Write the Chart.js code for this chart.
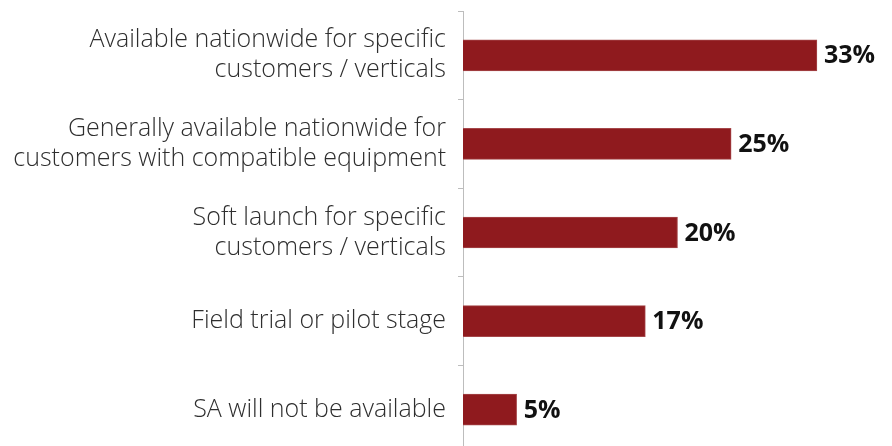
<!DOCTYPE html>
<html lang="en">
<head>
    <meta charset="UTF-8">
    <title>SA availability</title>
    <script src="https://cdn.jsdelivr.net/npm/chart.js"></script>
    <style>
        html, body { margin: 0; padding: 0; background: #fff; overflow: hidden; }
        .chart-box { position: relative; width: 892px; height: 454px; }
    </style>
</head>
<body>
    <div class="chart-box">
        <canvas id="availChart"></canvas>
    </div>

    <script>
        // Survey answers, top to bottom
        const categories = [
            ['Available nationwide for specific', 'customers / verticals'],
            ['Generally available nationwide for', 'customers with compatible equipment'],
            ['Soft launch for specific', 'customers / verticals'],
            'Field trial or pilot stage',
            'SA will not be available'
        ];
        const shares = [33, 25, 20, 17, 5];

        // Writes the percentage just past the end of each bar
        const valueLabels = {
            id: 'valueLabels',
            afterDatasetsDraw(chart) {
                const ctx = chart.ctx;
                const meta = chart.getDatasetMeta(0);
                ctx.save();
                ctx.font = 'bold 25px "Open Sans"';
                ctx.fillStyle = '#111';
                ctx.textAlign = 'left';
                ctx.textBaseline = 'middle';
                meta.data.forEach((bar, i) => {
                    ctx.fillText(shares[i] + '%', bar.x + 7, bar.y + 1);
                });
                ctx.restore();
            }
        };

        new Chart(document.getElementById('availChart'), {
            type: 'bar',
            data: {
                labels: categories,
                datasets: [{
                    data: shares,
                    backgroundColor: '#8f1a1e',
                    borderColor: '#a5474a',
                    borderWidth: 1,
                    barThickness: 31
                }]
            },
            options: {
                indexAxis: 'y',
                responsive: true,
                maintainAspectRatio: false,
                animation: false,
                layout: { padding: { top: 11, right: 0, bottom: 0, left: 0 } },
                plugins: {
                    legend: { display: false },
                    tooltip: { enabled: false }
                },
                scales: {
                    x: {
                        display: false,
                        min: 0,
                        max: 40
                    },
                    y: {
                        // fixed axis width, and no extra room reserved for the tall labels
                        afterFit(scale) {
                            scale.width = 463;
                            scale.paddingTop = 0;
                            scale.paddingBottom = 0;
                        },
                        border: { display: true, color: '#bdbdbd', width: 1 },
                        grid: {
                            offset: true,
                            drawOnChartArea: false,
                            tickLength: 5,
                            color: '#bdbdbd'
                        },
                        ticks: {
                            padding: 12,
                            color: '#2e2e2e',
                            font: { family: 'Open Sans', size: 25, weight: 300, lineHeight: 1.2 }
                        }
                    }
                }
            },
            plugins: [valueLabels]
        });
    </script>
</body>
</html>
